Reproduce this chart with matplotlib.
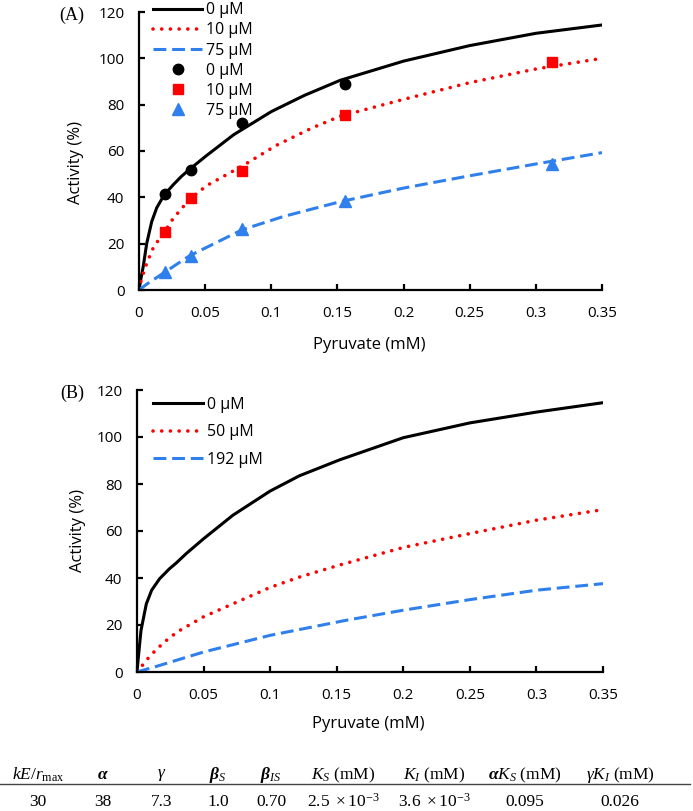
import matplotlib
matplotlib.use("Agg")
import matplotlib.pyplot as plt
from matplotlib.lines import Line2D

plt.rcParams['font.family'] = ['Open Sans', 'DejaVu Sans']
plt.rcParams['mathtext.fontset'] = 'custom'
plt.rcParams['mathtext.rm'] = 'Liberation Serif'
plt.rcParams['mathtext.it'] = 'Liberation Serif:italic'
plt.rcParams['mathtext.bf'] = 'Liberation Serif:bold'
plt.rcParams['mathtext.bfit'] = 'Liberation Serif:bold:italic'

# ---- data ----
x_ticks = [0, 0.05, 0.1, 0.15, 0.2, 0.25, 0.3, 0.35]
x_tick_labels = ["0", "0.05", "0.1", "0.15", "0.2", "0.25", "0.3", "0.35"]
y_ticks = [0, 20, 40, 60, 80, 100, 120]

# panel A measured points
pyr_meas = [0.0195, 0.039, 0.078, 0.156, 0.3125]
act_0uM = [41.3, 52.0, 72.3, 88.8]          # no point at 0.3125
act_10uM = [25.0, 39.5, 51.3, 75.5, 98.5]
act_75uM = [7.8, 14.6, 26.2, 38.3, 54.6]

# panel A fitted curves
fitA_0_x = [0, 0.0015, 0.0033, 0.0058, 0.0096, 0.0134, 0.019, 0.026, 0.032, 0.038, 0.051,
            0.0715, 0.1, 0.125, 0.152, 0.2, 0.25, 0.3, 0.35]
fitA_0_y = [0, 5, 10.5, 20, 29.5, 35.5, 41, 45.5, 49, 52, 58,
            67, 77, 84, 90.5, 98.8, 105.5, 110.8, 114.4]
fitA_10_x = [0, 0.002, 0.0058, 0.011, 0.019, 0.026, 0.038, 0.051, 0.078, 0.104, 0.131,
             0.152, 0.2, 0.25, 0.3, 0.35]
fitA_10_y = [0, 5, 11.5, 18.5, 25, 31, 39, 45, 53.5, 62.5, 70,
             75, 82.3, 89.5, 95.4, 100]
fitA_75_x = [0, 0.0058, 0.019, 0.038, 0.078, 0.109, 0.152, 0.2, 0.25, 0.3, 0.35]
fitA_75_y = [0, 2.5, 7.5, 14.7, 26, 31.7, 38.1, 44, 49.3, 54.4, 59.3]

# panel B simulated curves
simB_0_x = [0, 0.0008, 0.003, 0.007, 0.011, 0.017, 0.0245, 0.0295, 0.037, 0.05, 0.072,
            0.1, 0.122, 0.1523, 0.2, 0.25, 0.3, 0.35]
simB_0_y = [0, 5, 17.7, 29, 34.8, 39.7, 44, 46.4, 50.4, 56.7, 66.7,
            77, 83.5, 90.3, 99.7, 106, 110.6, 114.6]
simB_50_x = [0, 0.005, 0.01, 0.02, 0.03, 0.05, 0.072, 0.1, 0.122, 0.152, 0.2, 0.25, 0.3, 0.35]
simB_50_y = [0, 3.5, 7, 12.5, 17, 23.5, 29, 36, 40.4, 45.5, 53, 58.9, 64.6, 69.1]
simB_192_x = [0, 0.017, 0.05, 0.1, 0.157, 0.2, 0.25, 0.3, 0.35]
simB_192_y = [0, 2.8, 8.5, 15.6, 22, 26.3, 30.8, 34.8, 37.6]

labelsA = ["0 µM", "10 µM", "75 µM"]
labelsB = ["0 µM", "50 µM", "192 µM"]

# table of parameters
tab_head = [r'$\mathit{kE/r}_{\mathrm{max}}$', r'$\mathbfit{\alpha}$', r'$\mathit{\gamma}$',
            r'$\mathbfit{\beta}_{\mathit{S}}$', r'$\mathbfit{\beta}_{\mathit{IS}}$',
            r'$\mathit{K}_{\mathit{S}}\ \mathrm{(mM)}$', r'$\mathit{K}_{\mathit{I}}\ \mathrm{(mM)}$',
            r'$\mathbfit{\alpha}\mathit{K}_{\mathit{S}}\ \mathrm{(mM)}$',
            r'$\mathit{\gamma K}_{\mathit{I}}\ \mathrm{(mM)}$']
tab_vals = ["30", "38", "7.3", "1.0", "0.70",
            r'$\mathrm{2.5\ \times10^{-3}}$', r'$\mathrm{3.6\ \times10^{-3}}$', "0.095", "0.026"]
tab_xpos = [38, 103, 162, 218, 271, 343, 434, 525, 620]

BLACK = 'black'
RED = '#FF0000'
BLUE = '#2F80EC'

W, H = 693, 811
fig = plt.figure(figsize=(W / 100, H / 100), dpi=100)
axA = fig.add_axes([139 / W, 1 - 290 / H, 463 / W, 278 / H])
axB = fig.add_axes([137 / W, 1 - 672 / H, 466 / W, 282 / H])

dot_style = (0, (0.01, 2.4))
dash_style = (0, (4.2, 1.9))


def style_axis(ax):
    ax.set_xlim(0, 0.35)
    ax.set_ylim(0, 120)
    ax.set_xticks(x_ticks)
    ax.set_xticklabels(x_tick_labels)
    ax.set_yticks(y_ticks)
    for s in ['top', 'right']:
        ax.spines[s].set_visible(False)
    for s in ['left', 'bottom']:
        ax.spines[s].set_linewidth(1.6)
    ax.tick_params(direction='in', length=4, width=1.6, labelsize=11)
    ax.tick_params(axis='y', pad=10.5)
    ax.tick_params(axis='x', pad=11.5)
    ax.set_xlabel("Pyruvate (mM)", fontsize=12)
    ax.set_ylabel("Activity (%)", fontsize=12)


# ---- panel A ----
axA.plot(fitA_0_x, fitA_0_y, color=BLACK, lw=2.2, label=labelsA[0])
axA.plot(fitA_10_x, fitA_10_y, color=RED, lw=2.6, linestyle=dot_style,
         dash_capstyle='round', label=labelsA[1])
axA.plot(fitA_75_x, fitA_75_y, color=BLUE, lw=2.2, linestyle=dash_style, label=labelsA[2])
axA.plot(pyr_meas[:4], act_0uM, 'o', color=BLACK, ms=7.5, label=labelsA[0])
axA.plot(pyr_meas, act_10uM, 's', color=RED, ms=7.5, label=labelsA[1])
axA.plot(pyr_meas, act_75uM, '^', color=BLUE, ms=8.5, label=labelsA[2])
style_axis(axA)
axA.xaxis.set_label_coords(0.497, -0.168)
axA.yaxis.set_label_coords(-0.119, 0.46)
axA.legend(loc='upper left', bbox_to_anchor=(0.03, 1.035), frameon=False, fontsize=11.5,
           handlelength=3.1, handletextpad=0.25, labelspacing=0.26, borderpad=0,
           borderaxespad=0)

# ---- panel B ----
axB.plot(simB_0_x, simB_0_y, color=BLACK, lw=2.2, label=labelsB[0])
axB.plot(simB_50_x, simB_50_y, color=RED, lw=2.6, linestyle=dot_style,
         dash_capstyle='round', label=labelsB[1])
axB.plot(simB_192_x, simB_192_y, color=BLUE, lw=2.2, linestyle=dash_style, label=labelsB[2])
style_axis(axB)
axB.xaxis.set_label_coords(0.497, -0.157)
axB.yaxis.set_label_coords(-0.109, 0.5)
axB.legend(loc='upper left', bbox_to_anchor=(0.035, 0.976), frameon=False, fontsize=11.5,
           handlelength=3.1, handletextpad=0.25, labelspacing=0.73, borderpad=0,
           borderaxespad=0)

# panel letters
fig.text(72 / W, 1 - 15 / H, "(A)", family='Liberation Serif', fontsize=13,
         ha='center', va='center')
fig.text(72 / W, 1 - 393 / H, "(B)", family='Liberation Serif', fontsize=13,
         ha='center', va='center')

# ---- parameter table ----
for xp, head, val in zip(tab_xpos, tab_head, tab_vals):
    fig.text(xp / W, 1 - 775 / H, head, fontsize=12.5, family='Liberation Serif',
             ha='center', va='center')
    fig.text(xp / W, 1 - 802 / H, val, fontsize=12.5, family='Liberation Serif',
             ha='center', va='center')
fig.add_artist(Line2D([0, 690 / W], [1 - 784 / H, 1 - 784 / H], color='#444444', lw=1.0))

fig.savefig("out.png", dpi=100)
